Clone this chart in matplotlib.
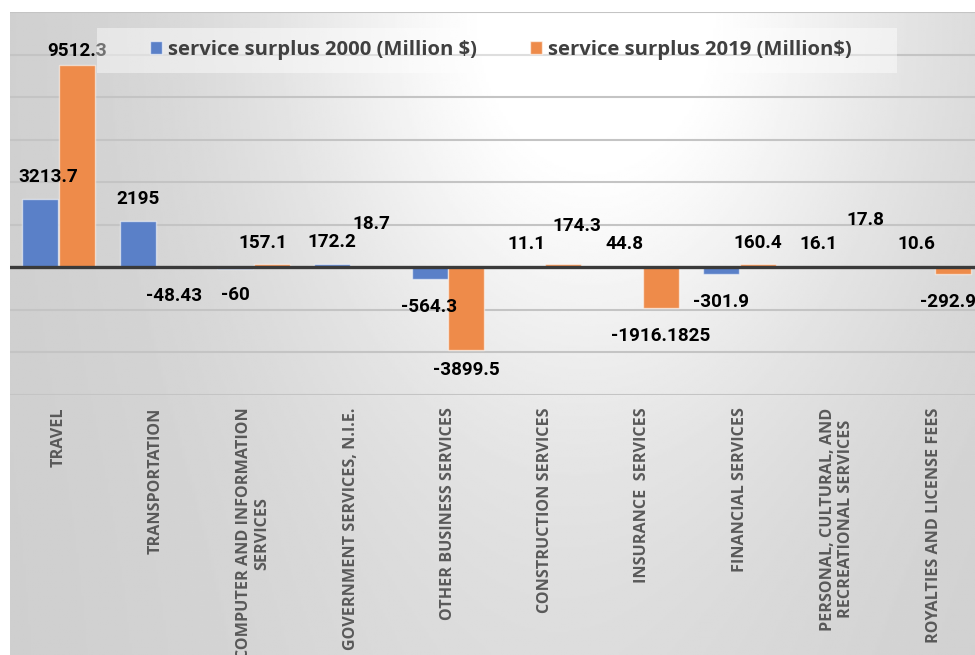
import numpy as np
import matplotlib.pyplot as plt
from matplotlib.patches import Rectangle, Patch

# service trade surplus by category
categories = ["TRAVEL", "TRANSPORTATION", "COMPUTER AND INFORMATION\nSERVICES",
              "GOVERNMENT SERVICES, N.I.E.", "OTHER BUSINESS SERVICES",
              "CONSTRUCTION SERVICES", "INSURANCE  SERVICES", "FINANCIAL SERVICES",
              "PERSONAL, CULTURAL, AND\nRECREATIONAL SERVICES",
              "ROYALTIES AND LICENSE FEES"]
surplus_2000 = [3213.7, 2195, -60, 172.2, -564.3, 11.1, 44.8, -301.9, 16.1, 10.6]
surplus_2019 = [9512.3, -48.43, 157.1, 18.7, -3899.5, 174.3, -1916.1825, 160.4, 17.8, -292.9]
series_names = ["service surplus 2000 (Million $)", "service surplus 2019 (Million$)"]

# hand-placed data label nudges (pixels from bar end)
nudge_2000 = [(8, 22), (0, 22), (0, -26), (0, 22), (0, -28),
              (0, 23), (0, 22), (0, -28), (0, 23), (0, 23)]
nudge_2019 = [(0, 14), (0, -28), (-9, 21), (3, 43), (0, -20),
              (13, 38), (0, -28), (0, 21), (10, 47), (-5, -28)]

W, H = 975, 655
fig = plt.figure(figsize=(W / 100, H / 100), dpi=100, facecolor="white")

# grey gradient chart background
gx = np.linspace(0, 1, 400)
gy = np.linspace(0, 1, 300)
X, Y = np.meshgrid(gx, gy)
shade = (0.805 + 0.17 * np.exp(-((X - 0.62) / 0.33) ** 2 - (Y / 0.6) ** 2)
         + 0.05 * np.exp(-((X - 0.55) / 0.38) ** 2))
bg = fig.add_axes([10 / W, 0, 1 - 10 / W, 1 - 12 / H], zorder=-1)
bg.imshow(shade, cmap="gray", vmin=0, vmax=1, aspect="auto",
          extent=[0, 1, 0, 1], origin="upper")
bg.axis("off")

ax = fig.add_axes([10 / W, 1 - 395 / H, 973 / W, 383 / H])
ax.set_facecolor("none")

x = np.arange(len(categories))
bw = 0.37
off = 0.188
b1 = ax.bar(x - off, surplus_2000, bw, color="#5a80c8",
            edgecolor=(1, 1, 1, 0.55), linewidth=1, zorder=3)
b2 = ax.bar(x + off, surplus_2019, bw, color="#ee8b4a",
            edgecolor=(1, 1, 1, 0.55), linewidth=1, zorder=3)

ax.set_xlim(-0.5, len(categories) - 0.5)
ax.set_ylim(-6000, 12000)
for yv in range(-6000, 12001, 2000):
    if yv == 0:
        continue
    ax.axhline(yv, color="#c4c4c4", lw=1.5, zorder=1)
ax.axhline(0, color="#3a3a3a", lw=2.4, zorder=4)

for s in ax.spines.values():
    s.set_visible(False)
ax.set_yticks([])
ax.set_xticks(x)
ax.set_xticklabels(categories, rotation=90, fontsize=11.6, color="#595959",
                   family="Open Sans", fontweight="bold",
                   multialignment="center")
ax.tick_params(axis="x", length=0, pad=9)

def fmt(v):
    return f"{v:.10g}"

for xs, vals, nudges in ((x - off, surplus_2000, nudge_2000),
                         (x + off, surplus_2019, nudge_2019)):
    for xi, v, (dx, dy) in zip(xs, vals, nudges):
        ax.annotate(fmt(v), xy=(xi, v), xytext=(dx, dy),
                    textcoords="offset pixels", ha="center", va="center",
                    fontsize=13.6, fontweight="bold", family="Roboto",
                    color="black", zorder=5, annotation_clip=False)

# translucent legend band across the top
fig.patches.append(Rectangle((97 / W, 1 - 73 / H), 800 / W, 45 / H,
                             transform=fig.transFigure, facecolor="white",
                             alpha=0.45, edgecolor="none", zorder=2))
handles = [Patch(facecolor="#5a80c8", edgecolor=(1, 1, 1, 0.6)),
           Patch(facecolor="#ee8b4a", edgecolor=(1, 1, 1, 0.6))]
fig.legend(handles, series_names, loc="center", bbox_to_anchor=(501 / W, 1 - 50 / H),
           ncol=2, frameon=False, handlelength=0.6, handleheight=0.6,
           handletextpad=0.3, columnspacing=2.6,
           prop={"family": "Open Sans", "weight": "bold", "size": 14.6},
           labelcolor="#404040")

plt.savefig("out.png", dpi=100, facecolor="white")
